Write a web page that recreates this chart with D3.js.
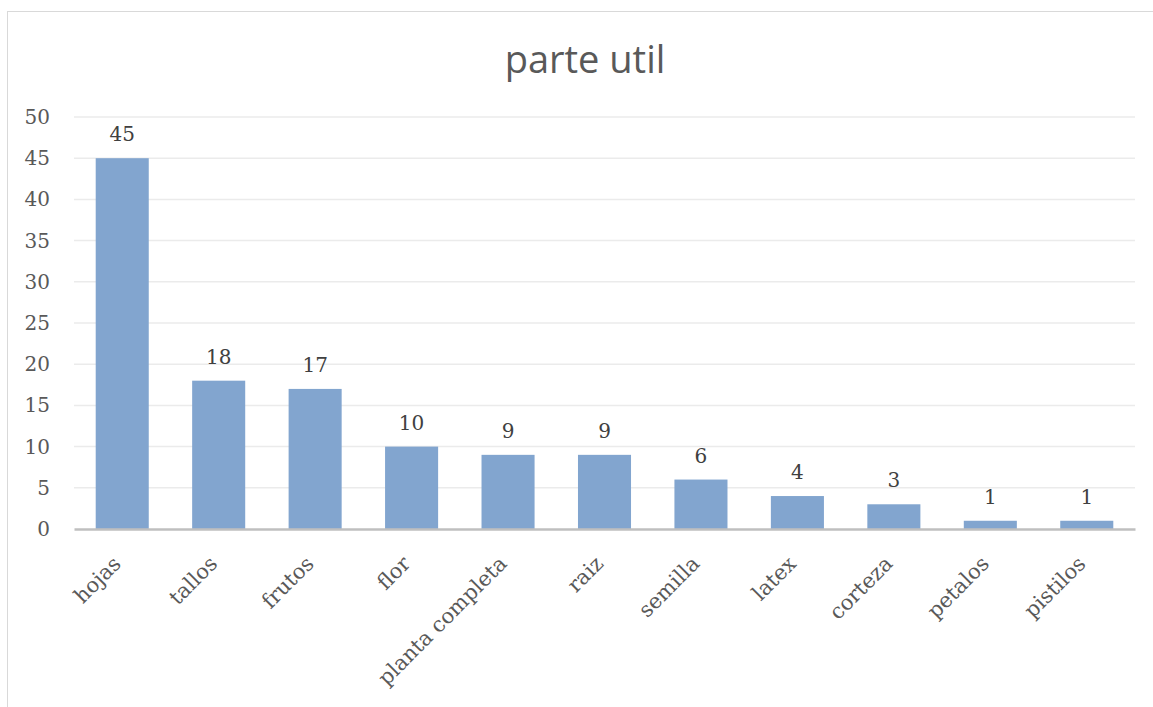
<!DOCTYPE html>
<html>
<head>
<meta charset="utf-8">
<script src="https://cdn.jsdelivr.net/npm/d3@7"></script>
<style>
  body { margin: 0; background: #fff; }
  .tick text { font-family: "DejaVu Serif", serif; }
</style>
</head>
<body>
<script>
// data
const categories = ["hojas", "tallos", "frutos", "flor", "planta completa", "raiz", "semilla", "latex", "corteza", "petalos", "pistilos"]
const values = [45, 18, 17, 10, 9, 9, 6, 4, 3, 1, 1]
const yTicks = [0, 5, 10, 15, 20, 25, 30, 35, 40, 45, 50]
const title = "parte util"

const width = 1153, height = 707
var margin = {top: 117, right: 18, bottom: 178, left: 74}
const innerwidth = width - margin.left - margin.right,
      innerheight = height - margin.top - margin.bottom

const svg = d3.select("body").append("svg")
    .attr("width", width)
    .attr("height", height)

// chart frame
svg.append("rect")
    .attr("x", 7.5).attr("y", 11.5)
    .attr("width", width).attr("height", height)
    .attr("fill", "none")
    .attr("stroke", "#d9d9d9")

svg.append("text")
    .attr("x", 585).attr("y", 73)
    .attr("text-anchor", "middle")
    .attr("font-family", "'Open Sans', sans-serif")
    .attr("font-size", 38)
    .attr("fill", "#595959")
    .text(title)

const g = svg.append("g")
    .attr("transform", `translate(${margin.left},${margin.top})`)

const xScale = d3.scaleBand()
    .domain(categories)
    .range([0, innerwidth])
    .paddingInner(0.45)
    .paddingOuter(0.225)

const yScale = d3.scaleLinear()
    .domain([0, 50])
    .range([innerheight, 0])

// gridlines
g.selectAll(".grid").data(yTicks.slice(1))
  .enter().append("line")
    .attr("class", "grid")
    .attr("x1", 0).attr("x2", innerwidth)
    .attr("y1", d => yScale(d)).attr("y2", d => yScale(d))
    .attr("stroke", "#ebebeb")
    .attr("stroke-width", 1.5)

// y axis
const yAxisG = g.append("g")
    .call(d3.axisLeft(yScale).tickValues(yTicks).tickSize(0).tickPadding(24))
yAxisG.select(".domain").remove()
yAxisG.selectAll("text")
    .attr("font-size", 20)
    .attr("fill", "#595959")

// bars
g.selectAll(".bar").data(values)
  .enter().append("rect")
    .attr("class", "bar")
    .attr("x", (d, i) => xScale(categories[i]))
    .attr("width", xScale.bandwidth())
    .attr("y", d => yScale(d))
    .attr("height", d => innerheight - yScale(d))
    .attr("fill", "#82a5cf")

// data labels
g.selectAll(".lbl").data(values)
  .enter().append("text")
    .attr("class", "lbl")
    .attr("x", (d, i) => xScale(categories[i]) + xScale.bandwidth() / 2)
    .attr("y", d => yScale(d) - 17)
    .attr("text-anchor", "middle")
    .attr("font-family", "'DejaVu Serif', serif")
    .attr("font-size", 20)
    .attr("fill", "#404040")
    .text(d => d)

// x axis
const xAxisG = g.append("g")
    .attr("transform", `translate(0,${innerheight})`)
    .call(d3.axisBottom(xScale).tickSize(0).tickPadding(0))
xAxisG.select(".domain")
    .attr("stroke", "#bfbfbf")
    .attr("stroke-width", 2.5)
xAxisG.selectAll("text")
    .attr("font-size", 21)
    .attr("fill", "#595959")
    .attr("y", 0)
    .attr("dy", null)
    .attr("transform", "translate(0,36) rotate(-45)")
    .style("text-anchor", "end")
</script>
</body>
</html>
